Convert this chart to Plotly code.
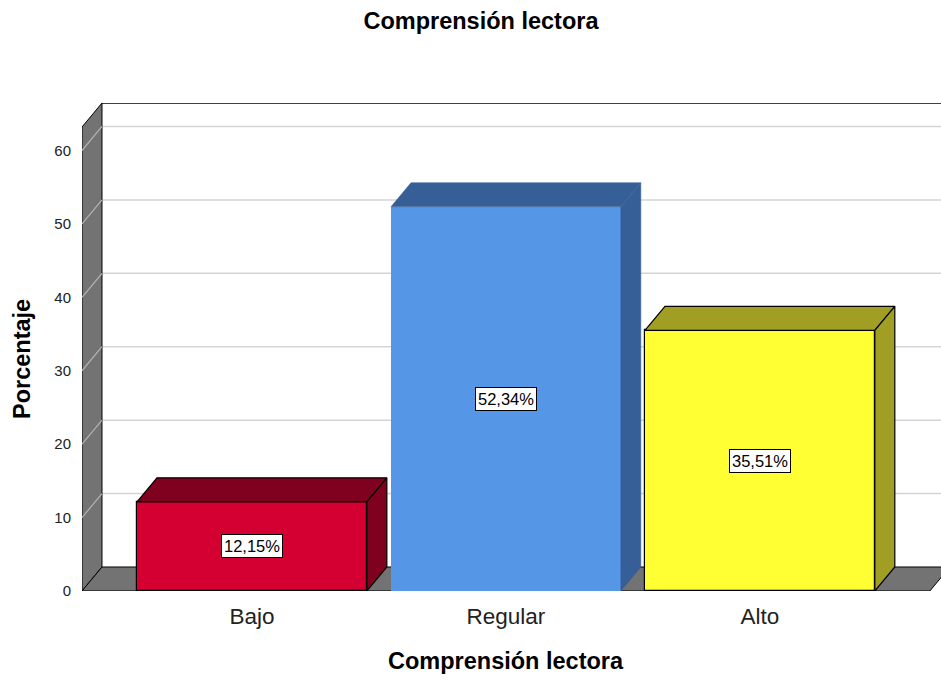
import plotly.graph_objects as go

# ---------------- data ----------------
categories = ["Bajo", "Regular", "Alto"]
percent = [12.15, 52.34, 35.51]
y_ticks = [0, 10, 20, 30, 40, 50, 60]

front_colors = ["#D50032", "#5596E6", "#FFFF33"]
dark_colors = ["#80001F", "#365F98", "#A09F24"]
edge_colors = ["#000000", "rgba(0,0,0,0)", "#000000"]
edge_widths = [1.2, 0, 1.2]

title_text = "Comprensión lectora"
x_title = "Comprensión lectora"
y_title = "Porcentaje"

# ---------------- geometry (3D look) ----------------
BAR_W = 0.905
X0, X1 = -0.669, 2.669          # front plane extent (category units)
XR = 2.713                      # right end of view
DX, DY = 0.0787, 3.27           # depth offset in axis units
Y_TOP = 63.2                    # top of the walls (front plane value)
Y_MAX = Y_TOP + DY

FONT = "Liberation Sans, Arial, sans-serif"
WALL = "#737373"

xs = list(range(len(categories)))
labels = [f"{v:.2f}".replace(".", ",") + "%" for v in percent]

fig = go.Figure()

shapes = []
# back wall gridlines
for t in y_ticks[1:]:
    shapes.append(dict(type="line", xref="x", yref="y", layer="below",
                       x0=X0 + DX, x1=XR, y0=t + DY, y1=t + DY,
                       line=dict(color="#D4D4D4", width=1.5)))
# left wall
shapes.append(dict(type="path", xref="x", yref="y", layer="below",
                   path=f"M {X0},0 L {X0+DX},{DY} L {X0+DX},{Y_TOP+DY} L {X0},{Y_TOP} Z",
                   fillcolor=WALL, line=dict(color="#000000", width=1)))
# wall diagonals
for t in y_ticks[1:]:
    shapes.append(dict(type="line", xref="x", yref="y", layer="below",
                       x0=X0, x1=X0 + DX, y0=t, y1=t + DY,
                       line=dict(color="#B4B4B4", width=1.2)))
# floor
shapes.append(dict(type="path", xref="x", yref="y", layer="below",
                   path=f"M {X0},0 L {X1},0 L {X1+DX},{DY} L {X0+DX},{DY} Z",
                   fillcolor=WALL, line=dict(color="#000000", width=1)))
# top border of back wall
shapes.append(dict(type="line", xref="x", yref="y", layer="below",
                   x0=X0 + DX, x1=XR, y0=Y_TOP + DY, y1=Y_TOP + DY,
                   line=dict(color="#000000", width=1.5)))

fig.add_trace(go.Bar(
    x=xs, y=percent, width=BAR_W,
    marker=dict(color=front_colors, line=dict(color=edge_colors, width=edge_widths)),
    hoverinfo="skip", showlegend=False,
))

# top and side faces
for x, v, dc, ec, ew in zip(xs, percent, dark_colors, edge_colors, edge_widths):
    xl, xr = x - BAR_W / 2, x + BAR_W / 2
    top_x = [xl, xr, xr + DX, xl + DX, xl]
    top_y = [v, v, v + DY, v + DY, v]
    side_x = [xr, xr + DX, xr + DX, xr, xr]
    side_y = [0, DY, v + DY, v, 0]
    for px, py in ((top_x, top_y), (side_x, side_y)):
        fig.add_trace(go.Scatter(
            x=px, y=py, mode="lines", fill="toself", fillcolor=dc,
            line=dict(color=ec if ew > 0 else dc, width=max(ew, 0.5)),
            hoverinfo="skip", showlegend=False,
        ))

annotations = []
for x, v, lab in zip(xs, percent, labels):
    annotations.append(dict(x=x, y=v / 2, xref="x", yref="y", text=lab,
                            showarrow=False, bgcolor="#FFFFFF",
                            bordercolor="#000000", borderwidth=1, borderpad=2,
                            font=dict(family=FONT, size=16.5, color="#000000")))

# axis titles
annotations.append(dict(x=(506 - 82) / 859, y=(591 - 661) / 488, xref="paper", yref="paper",
                        text=f"<b>{x_title}</b>", showarrow=False,
                        xanchor="center", yanchor="middle",
                        font=dict(family=FONT, size=23.5, color="#000000")))
annotations.append(dict(x=(22 - 82) / 859, y=(591 - 359) / 488, xref="paper", yref="paper",
                        text=f"<b>{y_title}</b>", showarrow=False, textangle=-90,
                        xanchor="center", yanchor="middle",
                        font=dict(family=FONT, size=23.5, color="#000000")))

fig.update_layout(
    width=941, height=680,
    margin=dict(l=82, r=0, t=103, b=89),
    paper_bgcolor="#FFFFFF", plot_bgcolor="#FFFFFF",
    title=dict(text=f"<b>{title_text}</b>", x=481 / 941, xanchor="center",
               y=1 - 21 / 680, yref="container", yanchor="middle",
               font=dict(family=FONT, size=23.5, color="#000000")),
    shapes=shapes, annotations=annotations,
    bargap=0,
    xaxis=dict(range=[X0, XR], tickvals=xs, ticktext=categories,
               showgrid=False, zeroline=False, showline=False,
               ticks="outside", ticklen=5, tickcolor="rgba(0,0,0,0)",
               tickfont=dict(family=FONT, size=22.5, color="#222222"), fixedrange=True),
    yaxis=dict(range=[0, Y_MAX], tickvals=y_ticks,
               showgrid=False, zeroline=False, showline=False,
               ticks="outside", ticklen=7, tickcolor="rgba(0,0,0,0)",
               tickfont=dict(family=FONT, size=15, color="#222222"), fixedrange=True),
)

fig.write_html("out.html")
